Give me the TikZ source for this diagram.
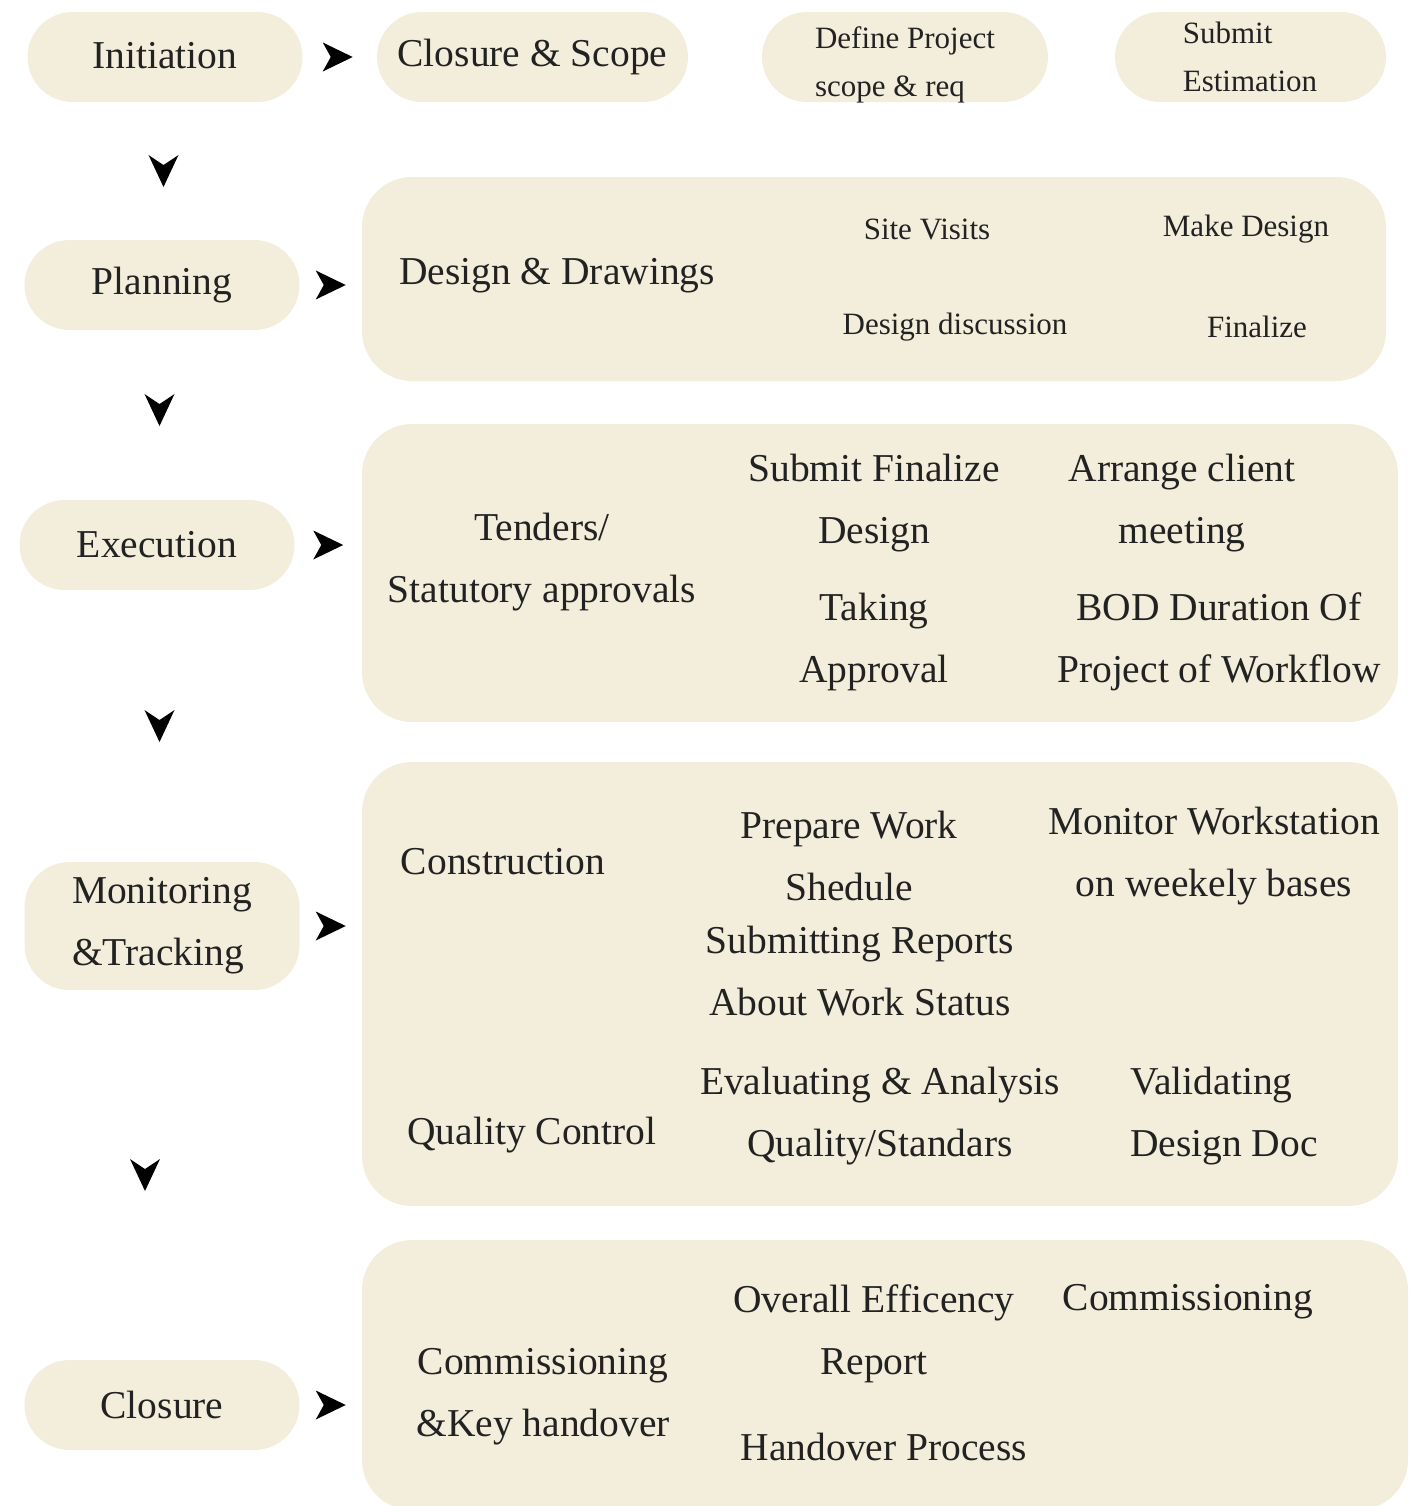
\documentclass[tikz,border=0pt]{standalone}
\usepackage{fontspec}
\setmainfont{Liberation Serif}
\usetikzlibrary{calc}
\definecolor{pillfill}{RGB}{243,238,219}
\definecolor{ink}{RGB}{34,34,34}
\tikzset{
  stage/.style={draw=none,fill=pillfill,rounded corners=22.5pt,minimum width=137.5pt,minimum height=45pt,text=ink,font=\fontsize{19.75}{31}\selectfont,align=left,inner sep=0pt},
  panel/.style={draw=none,fill=pillfill,rounded corners=25pt,inner sep=0pt},
  big/.style={text=ink,font=\fontsize{19.75}{31}\selectfont,align=center,inner sep=0pt,yshift=-2pt},
  small/.style={text=ink,font=\fontsize{15.5}{24}\selectfont,align=left,inner sep=0pt,yshift=-1.5pt},
  rtip/.pic={\fill[black] (-15,-14.5) -- (15,0) -- (-15,14.5) -- (-7,0) -- cycle;},
  dtip/.pic={\fill[black] (-15,-16) -- (0,-6) -- (15,-16) -- (0,16) -- cycle;}
}
\begin{document}
\begin{tikzpicture}[x=0.5pt,y=-0.5pt]
\useasboundingbox (0,0) rectangle (1419,1506);
% left column
\node[stage] (init) at (165,57) {\raisebox{2pt}{Initiation}};
\node[stage] (plan) at (162,285) {Planning};
\node[stage] (exec) at (157,545) {Execution};
\node[stage,minimum height=64pt] (moni) at (162,926) {Monitoring\\\&Tracking};
\node[stage] (clos) at (162,1405) {Closure};
% first row
\node[stage,minimum width=155.5pt] (scope) at (532.5,57) {Closure \& Scope};
\node[stage,minimum width=143pt] (define) at (905,57) {};
\node[small] (definet) at (905,62) {Define Project\\scope \& req};
\node[stage,minimum width=135.5pt] (submit) at (1250.5,57) {};
\node[small] (submitt) at (1250,54) {Submit\\Estimation};
% panels
\node[panel,minimum width=512pt,minimum height=102pt] (design) at (874,279) {};
\node[panel,minimum width=518pt,minimum height=149pt] (tend) at (880,573) {};
\node[panel,minimum width=518pt,minimum height=222pt] (cons) at (880,984) {};
\node[panel,minimum width=523pt,minimum height=135pt] (comm) at (885,1375) {};
% planning texts
\node[big] (designt) at (557,272) {Design \& Drawings};
\node[small] (visit) at (927,226) {Site Visits};
\node[small] (make) at (1246,226) {Make Design};
\node[small] (discuss) at (955,324) {Design discussion};
\node[small] (final) at (1257,324) {Finalize};
% execution texts
\node[big] (tendt) at (542,558) {Tenders/\\Statutory approvals};
\node[big] (subfin) at (874,499) {Submit Finalize\\Design};
\node[big] (client) at (1182,499) {Arrange client\\meeting};
\node[big] (taking) at (874,638) {Taking\\Approval};
\node[big] (bod) at (1219,638) {BOD Duration Of\\Project of Workflow};
% monitoring texts
\node[big] (const) at (503,858) {Construction};
\node[big] (prep) at (849,852) {Prepare Work\\Shedule};
\node[big] (monit) at (1214,852) {Monitor Workstation\\on weekely bases};
\node[big] (report) at (860,967) {Submitting Reports\\About Work Status};
\node[big] (qc) at (532,1131) {Quality Control};
\node[big] (eval) at (880,1112) {Evaluating \& Analysis\\Quality/Standars};
\node[big,align=left] (valid) at (1224,1112) {Validating\\Design Doc};
% closure texts
\node[big] (key) at (543,1393) {Commissioning\\\&Key handover};
\node[big] (eff) at (874,1330) {Overall Efficency\\Report};
\node[big] (commt) at (1188,1298) {Commissioning};
\node[big] (hand) at (884,1443) {Handover Process};
% arrows
\pic at ($(init.east)!0.5!(scope.west)+(-2,0)$) {rtip};
\pic at ($(plan.east)!0.5!(plan.east -| design.west)$) {rtip};
\pic at ($(exec.east)!0.5!(exec.east -| tend.west)$) {rtip};
\pic at ($(moni.east)!0.5!(moni.east -| cons.west)$) {rtip};
\pic at ($(clos.east)!0.5!(clos.east -| comm.west)$) {rtip};
\pic at ($(init.south)!0.5!(plan.north)$) {dtip};
\pic at ($(plan.south)!0.5!(exec.north)+(0,-5)$) {dtip};
\pic at ($(exec.south)!0.5!(moni.north)$) {dtip};
\pic at ($(moni.south)!0.5!(clos.north)+(-17,0)$) {dtip};
\end{tikzpicture}
\end{document}
